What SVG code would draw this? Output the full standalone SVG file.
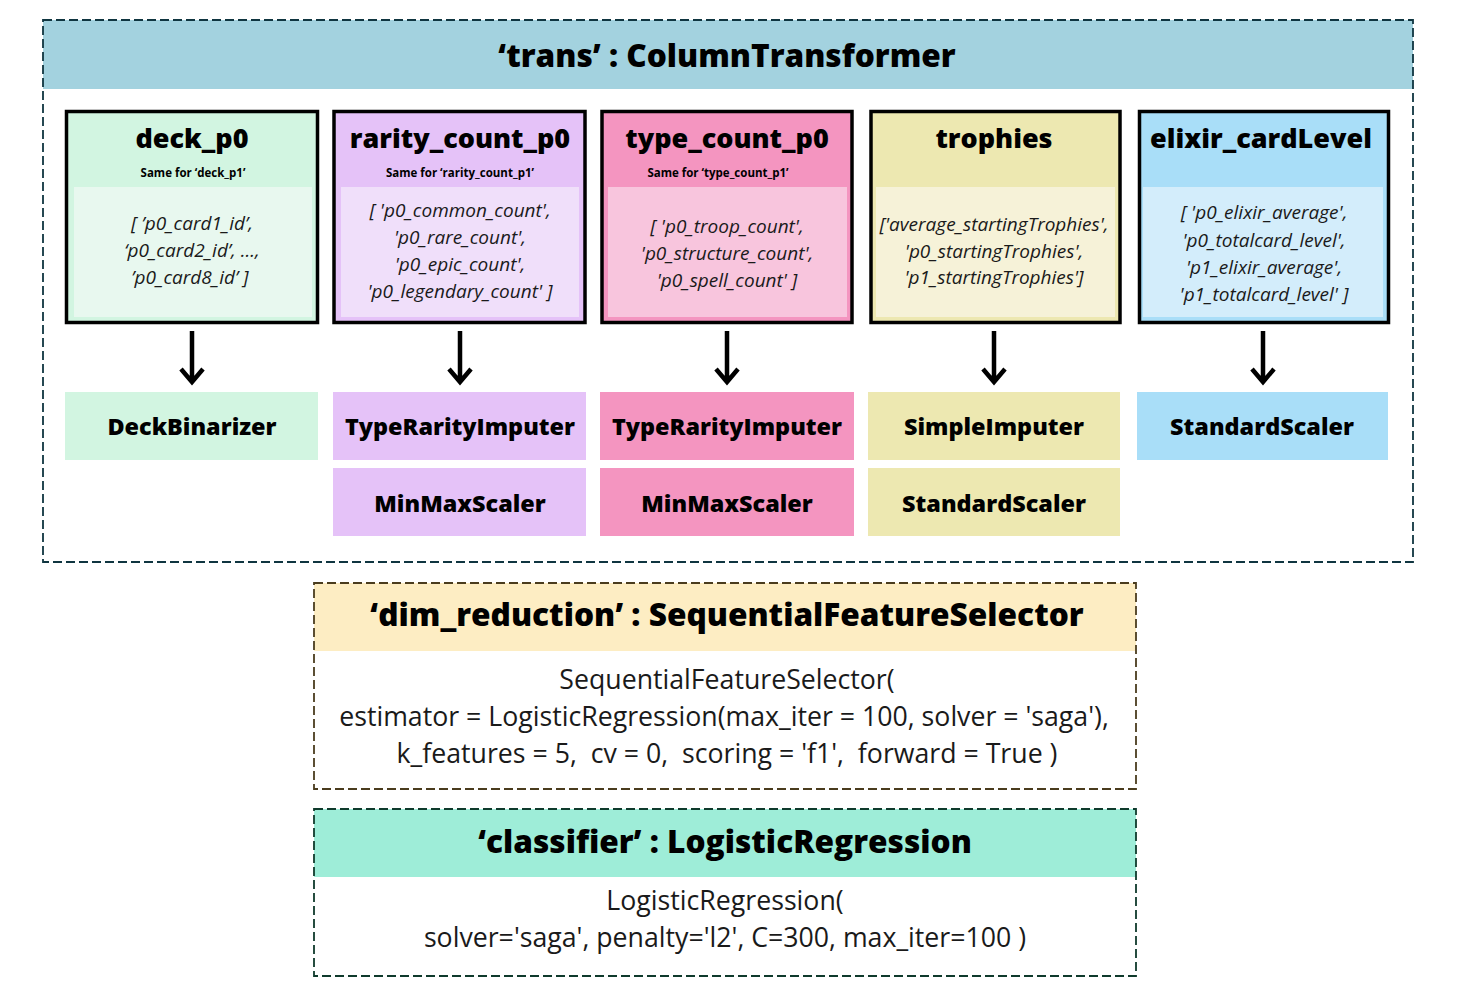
<svg xmlns="http://www.w3.org/2000/svg" width="1461" height="997" viewBox="0 0 1461 997">
<style>
.ttl{font-family:"Open Sans","Noto Sans",sans-serif;font-weight:800;font-size:31.6px;fill:#000;text-anchor:middle}
.hd{font-family:"Open Sans","Noto Sans",sans-serif;font-weight:800;font-size:27px;fill:#000;text-anchor:middle}
.sub{font-family:"Open Sans","Noto Sans",sans-serif;font-weight:700;font-size:11.5px;fill:#000;text-anchor:middle}
.lst{font-family:"Open Sans","Noto Sans",sans-serif;font-style:italic;font-size:19px;fill:#1a1a1a;text-anchor:middle}
.stp{font-family:"Open Sans","Noto Sans",sans-serif;font-weight:800;font-size:23.4px;fill:#000;text-anchor:middle}
.bd{font-family:"Open Sans","Noto Sans",sans-serif;font-size:26.7px;fill:#1a1a1a;text-anchor:middle;white-space:pre}
.dash{fill:none;stroke-width:1.8;stroke-dasharray:9 4}
.col{stroke:#000;stroke-width:3.5}
.arr{fill:none;stroke:#000;stroke-width:4.5;stroke-linecap:butt}
</style>
<rect width="1461" height="997" fill="#fff"/>

<g id="trans">
<rect x="43" y="20" width="1370" height="69" fill="#a3d2df"/>
<rect x="43" y="20" width="1370" height="542" class="dash" stroke="#0f3540"/>
<text class="ttl" x="727" y="67">‘trans’ : ColumnTransformer</text>
</g>

<g id="deck_p0">
<rect x="66.5" y="111.5" width="251" height="211" fill="#d2f5e1" class="col"/>
<rect x="74" y="187" width="238" height="130" fill="#e8f8ef"/>
<text class="hd" x="192" y="148">deck_p0</text>
<text class="sub" x="193" y="177">Same for ‘deck_p1’</text>
<text class="lst" x="192" y="230">[ ’p0_card1_id’,</text>
<text class="lst" x="192" y="257">‘p0_card2_id’, ...,</text>
<text class="lst" x="190" y="284">’p0_card8_id’ ]</text>
</g>

<g id="rarity_count_p0">
<rect x="334" y="111.5" width="251" height="211" fill="#e5c2f8" class="col"/>
<rect x="341" y="187" width="238" height="130" fill="#f0dffa"/>
<text class="hd" x="460" y="148">rarity_count_p0</text>
<text class="sub" x="460" y="177">Same for ‘rarity_count_p1’</text>
<text class="lst" x="460" y="217">[ 'p0_common_count',</text>
<text class="lst" x="460" y="244">'p0_rare_count',</text>
<text class="lst" x="460" y="271">'p0_epic_count',</text>
<text class="lst" x="460" y="298">'p0_legendary_count' ]</text>
</g>

<g id="type_count_p0">
<rect x="602" y="111.5" width="250" height="211" fill="#f495c0" class="col"/>
<rect x="608" y="187" width="239" height="130" fill="#f8c5dd"/>
<text class="hd" x="727" y="148">type_count_p0</text>
<text class="sub" x="718" y="177">Same for ‘type_count_p1’</text>
<text class="lst" x="727" y="233">[ 'p0_troop_count',</text>
<text class="lst" x="727" y="260">'p0_structure_count',</text>
<text class="lst" x="727" y="287">'p0_spell_count' ]</text>
</g>

<g id="trophies">
<rect x="871" y="111.5" width="249" height="211" fill="#ede8b1" class="col"/>
<rect x="876" y="187" width="239" height="130" fill="#f6f2d8"/>
<text class="hd" x="994" y="148">trophies</text>
<text class="lst" x="994" y="231">['average_startingTrophies',</text>
<text class="lst" x="994" y="258">'p0_startingTrophies',</text>
<text class="lst" x="994" y="284">'p1_startingTrophies']</text>
</g>

<g id="elixir_cardLevel">
<rect x="1139.5" y="111.5" width="249" height="211" fill="#a9def8" class="col"/>
<rect x="1143" y="187" width="240" height="130" fill="#d3edfb"/>
<text class="hd" x="1261" y="148">elixir_cardLevel</text>
<text class="lst" x="1264" y="219">[ 'p0_elixir_average',</text>
<text class="lst" x="1264" y="247">'p0_totalcard_level',</text>
<text class="lst" x="1264" y="274">'p1_elixir_average',</text>
<text class="lst" x="1264" y="301">'p1_totalcard_level' ]</text>
</g>

<g id="connectors">
<path class="arr" d="M192 331V382M181 369L192 382L203 369"/>
<path class="arr" d="M460 331V382M449 369L460 382L471 369"/>
<path class="arr" d="M727 331V382M716 369L727 382L738 369"/>
<path class="arr" d="M994 331V382M983 369L994 382L1005 369"/>
<path class="arr" d="M1263 331V382M1252 369L1263 382L1274 369"/>
</g>

<g id="DeckBinarizer">
<rect x="65" y="392" width="253" height="68" fill="#d2f5e1"/>
<text class="stp" x="192" y="435">DeckBinarizer</text>
</g>
<g id="TypeRarityImputer_1">
<rect x="333" y="392" width="253" height="68" fill="#e5c2f8"/>
<text class="stp" x="460" y="435">TypeRarityImputer</text>
</g>
<g id="MinMaxScaler_1">
<rect x="333" y="468" width="253" height="68" fill="#e5c2f8"/>
<text class="stp" x="460" y="512">MinMaxScaler</text>
</g>
<g id="TypeRarityImputer_2">
<rect x="600" y="392" width="254" height="68" fill="#f495c0"/>
<text class="stp" x="727" y="435">TypeRarityImputer</text>
</g>
<g id="MinMaxScaler_2">
<rect x="600" y="468" width="254" height="68" fill="#f495c0"/>
<text class="stp" x="727" y="512">MinMaxScaler</text>
</g>
<g id="SimpleImputer">
<rect x="868" y="392" width="252" height="68" fill="#ede8b1"/>
<text class="stp" x="994" y="435">SimpleImputer</text>
</g>
<g id="StandardScaler_1">
<rect x="868" y="468" width="252" height="68" fill="#ede8b1"/>
<text class="stp" x="994" y="512">StandardScaler</text>
</g>
<g id="StandardScaler_2">
<rect x="1137" y="392" width="251" height="68" fill="#a9def8"/>
<text class="stp" x="1262" y="435">StandardScaler</text>
</g>

<g id="dim_reduction">
<rect x="314" y="583" width="822" height="68" fill="#fdedc3"/>
<rect x="314" y="583" width="822" height="206" class="dash" stroke="#4a3c1e"/>
<text class="ttl" x="727" y="626">‘dim_reduction’ : SequentialFeatureSelector</text>
<text class="bd" x="727" y="689">SequentialFeatureSelector(</text>
<text class="bd" x="724" y="726">estimator = LogisticRegression(max_iter = 100, solver = 'saga'),</text>
<text class="bd" x="727" y="763" xml:space="preserve">k_features = 5,  cv = 0,  scoring = 'f1',  forward = True )</text>
</g>

<g id="classifier">
<rect x="314" y="809" width="822" height="68" fill="#9eedd8"/>
<rect x="314" y="809" width="822" height="167" class="dash" stroke="#0f3a2c"/>
<text class="ttl" x="725" y="853">‘classifier’ : LogisticRegression</text>
<text class="bd" x="725" y="910">LogisticRegression(</text>
<text class="bd" x="725" y="947">solver='saga', penalty='l2', C=300, max_iter=100 )</text>
</g>
</svg>
